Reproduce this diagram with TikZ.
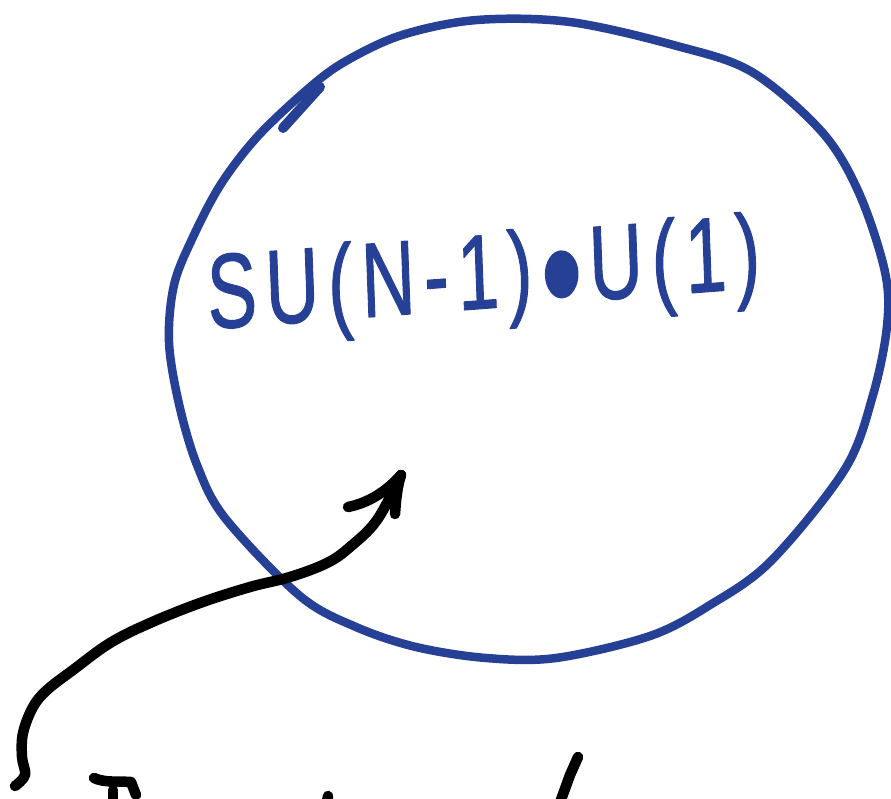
\documentclass[tikz,border=0pt]{standalone}
\usepackage{fontspec}
\usepackage{graphicx}
\setmainfont{Liberation Sans}
\newfontfamily\handfont[FakeBold=1.2, LetterSpace=12]{Liberation Sans}
\definecolor{penblue}{RGB}{37,64,148}
\begin{document}
\begin{tikzpicture}[x=1pt,y=-1pt, line cap=round, line join=round,
  bluepen/.style={draw=penblue, line width=8.5pt},
  blackpen/.style={draw=black, line width=10.5pt},
  handtext/.style={text=penblue, font=\handfont\fontsize{106}{106}\selectfont, inner sep=0pt}]
\useasboundingbox (0,0) rectangle (891,799);
% hand-drawn circle
\draw[bluepen] plot[smooth cycle, tension=0.55] coordinates {
 (477,20) (570,22) (677,46) (752,72) (822,132) (859,193) (885,272) (887,326)
 (873,395) (845,469) (771,561) (710,605) (650,636) (556,658) (486,658) (416,647)
 (356,627) (300,596) (225,518) (197,465) (179,404) (169,342) (174,285) (193,237)
 (221,184) (258,136) (309,88) (346,61) (402,35)};
\draw[bluepen, line width=10pt] (283,128) -- (320,87);
% label
\node[handtext, xscale=0.70, rotate=3] (label) at (484,284) {SU(N-1)\hspace{12pt}\raisebox{-28pt}{\scalebox{1.6}{•}}\hspace{10pt}U(1)};
% arrow
\coordinate (tail) at (15,786);
\coordinate (tip) at (401,475);
\draw[blackpen] plot[smooth, tension=0.6] coordinates {(tail) (25,775) (22,757) (23,733) (33,707) (47,690) (73,670)
 (110,643) (150,623) (200,603) (250,587) (290,577) (327,563) (350,547) (377,520) (tip)};
\draw[blackpen] (348,507) .. controls (368,503) and (386,492) .. (tip);
\draw[blackpen] (tip) .. controls (397,488) and (396,500) .. (395,514);
% cut-off writing at the bottom edge
\draw[blackpen] (94,778) .. controls (105,783) and (118,781) .. (131,782) -- (136,795);
\draw[blackpen] (113,790) -- (113,808);
\draw[blackpen] (326,808) -- (328,796);
\draw[blackpen] (578,757) -- (570,775) -- (558,808);
\end{tikzpicture}
\end{document}
